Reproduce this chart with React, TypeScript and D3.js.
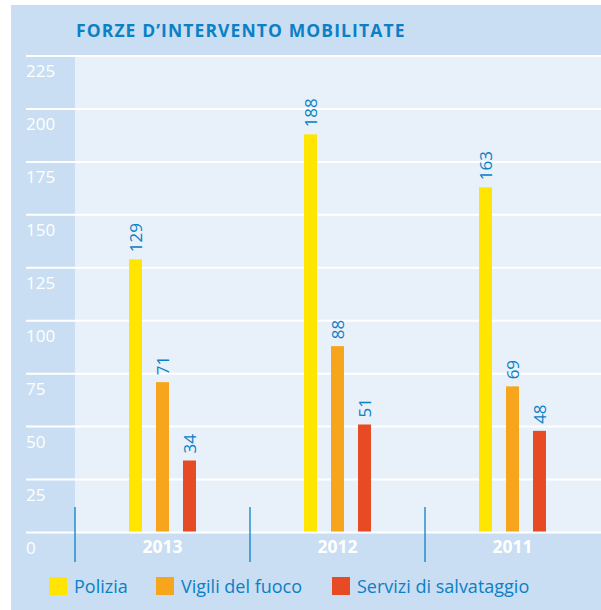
import React from "react";
import * as d3 from "d3";

const categories = ["2013", "2012", "2011"];
const seriesNames = ["Polizia", "Vigili del fuoco", "Servizi di salvataggio"];
const polizia = [129, 188, 163];
const vigili = [71, 88, 69];
const servizi = [34, 51, 48];
const yTicks = [0, 25, 50, 75, 100, 125, 150, 175, 200, 225];
const title = "FORZE D\u2019INTERVENTO MOBILITATE";

const colors = ["#ffe500", "#f7a51d", "#e64b25"];
const BLUE = "#0a80c6";
const PANEL = "#c9def2";
const PLOT = "#e8f0f9";
const FONT = "'Open Sans', 'Noto Sans', sans-serif";

export default function App() {
  const W = 601, H = 610;
  const y = d3.scaleLinear().domain([0, 225]).range([532.5, 56]);
  const x = d3.scaleBand<string>().domain(categories).range([75, 600]).padding(0);
  const xs = d3.scalePoint<string>().domain(seriesNames).range([-27, 27]);
  const values = [polizia, vigili, servizi];
  const barW = 13;

  return (
    <svg width={W} height={H} style={{ position: "absolute", left: 0, top: 0, background: "#fff" }}>
      <rect x={11} y={5} width={W - 11} height={H - 5} fill={PANEL} />
      <rect x={75} y={y(225)} width={W - 75} height={y(0) - y(225)} fill={PLOT} />
      <text x={76} y={37} fill={BLUE} fontFamily={FONT} fontWeight={700} fontSize={17.5} letterSpacing={1.1}>
        {title}
      </text>
      {yTicks.map((t) => (
        <g key={t}>
          <line x1={26} x2={W} y1={y(t)} y2={y(t)} stroke="#fff" strokeWidth={2} />
          <text x={26} y={y(t) + 21} fill="#fff" fontFamily={FONT} fontSize={17}>
            {t}
          </text>
        </g>
      ))}
      {categories.map((c, i) => {
        const cx = (x(c) as number) + x.bandwidth() / 2;
        return (
          <g key={c}>
            {seriesNames.map((s, j) => {
              const v = values[j][i];
              const bx = cx + (xs(s) as number);
              return (
                <g key={s}>
                  <rect x={bx - barW / 2} y={y(v)} width={barW} height={y(0) - 1 - y(v)} fill={colors[j]} />
                  <text
                    transform={`translate(${bx + 6.5},${y(v) - 7}) rotate(-90)`}
                    fill={BLUE}
                    fontFamily={FONT}
                    fontSize={17}
                  >
                    {v}
                  </text>
                </g>
              );
            })}
            <text x={cx} y={553} textAnchor="middle" fill="#fff" fontFamily={FONT} fontWeight={700} fontSize={17.5}>
              {c}
            </text>
          </g>
        );
      })}
      {categories.map((c) => (
        <line key={"sep" + c} x1={x(c) as number} x2={x(c) as number} y1={507} y2={562} stroke={BLUE} strokeWidth={1.3} />
      ))}
      {seriesNames.map((s, j) => {
        const lx = [49, 156, 332][j];
        return (
          <g key={"leg" + s}>
            <rect x={lx} y={577} width={18} height={18} fill={colors[j]} />
            <text x={lx + 25} y={593} fill={BLUE} fontFamily={FONT} fontSize={18}>
              {s}
            </text>
          </g>
        );
      })}
    </svg>
  );
}
